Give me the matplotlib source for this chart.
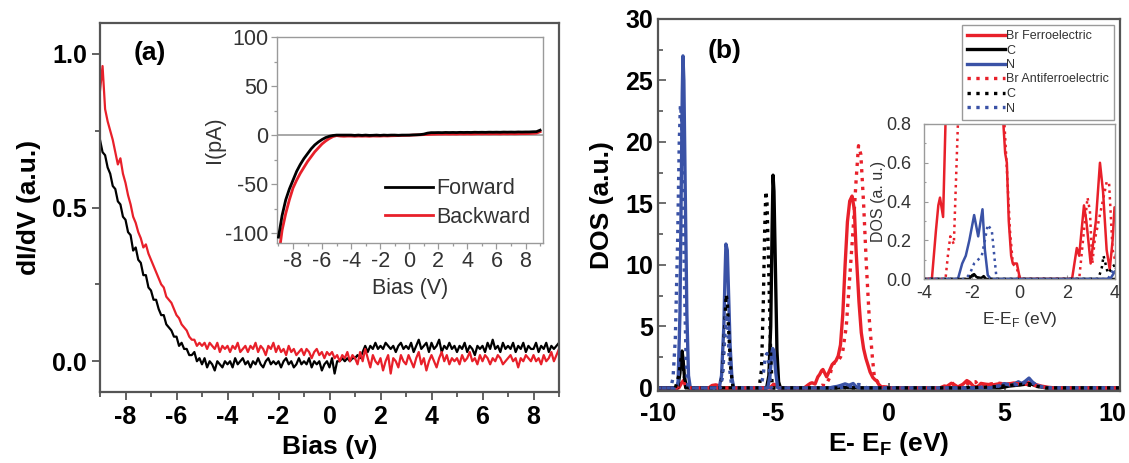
import numpy as np
import matplotlib
matplotlib.use("Agg")
import matplotlib.pyplot as plt
from matplotlib.ticker import MultipleLocator
from matplotlib.transforms import ScaledTranslation

plt.rcParams['font.family'] = ['Liberation Sans', 'DejaVu Sans']
plt.rcParams['mathtext.fontset'] = 'custom'
plt.rcParams['mathtext.rm'] = 'Liberation Sans'
plt.rcParams['mathtext.bf'] = 'Liberation Sans:bold'
plt.rcParams['axes.unicode_minus'] = False

# ---------------- Panel (a) data ----------------
bias = np.round(np.arange(-9.0, 9.001, 0.1), 1)
fwd_didv = [
    0.72, 0.68, 0.67, 0.63, 0.61, 0.57, 0.56, 0.52, 0.51, 0.47,
    0.46, 0.42, 0.41, 0.36, 0.37, 0.33, 0.32, 0.28, 0.28, 0.24,
    0.23, 0.20, 0.20, 0.17, 0.15, 0.15, 0.12, 0.11, 0.10, 0.08,
    0.08, 0.05, 0.06, 0.04, 0.04, 0.02, 0.02, 0.03, 0.00, 0.01,
    -0.01, 0.01, -0.02, 0.00, -0.01, -0.03, 0.00, -0.01, -0.02, 0.00,
    -0.01, 0.00, -0.02, 0.01, -0.01, 0.00, 0.01, -0.01, 0.00, -0.02,
    0.00, -0.01, 0.01, -0.01, -0.02, 0.00, 0.01, -0.01, 0.00, -0.01,
    0.00, -0.02, 0.00, 0.01, -0.01, 0.00, -0.02, -0.01, 0.01, -0.01,
    0.00, -0.01, 0.01, -0.02, 0.00, -0.01, 0.00, -0.03, -0.01, 0.00,
    -0.02, 0.01, -0.04, 0.00, 0.00, 0.01, 0.00, 0.01, 0.00, 0.01,
    0.01, 0.02, 0.01, 0.03, 0.05, 0.03, 0.05, 0.04, 0.06, 0.04,
    0.05, 0.04, 0.06, 0.05, 0.04, 0.05, 0.03, 0.05, 0.06, 0.04,
    0.05, 0.04, 0.06, 0.03, 0.05, 0.07, 0.04, 0.05, 0.06, 0.03,
    0.06, 0.04, 0.05, 0.07, 0.03, 0.05, 0.04, 0.06, 0.04, 0.05,
    0.03, 0.05, 0.04, 0.06, 0.03, 0.05, 0.04, 0.02, 0.05, 0.04,
    0.05, 0.03, 0.06, 0.04, 0.07, 0.04, 0.05, 0.03, 0.06, 0.04,
    0.05, 0.04, 0.06, 0.03, 0.05, 0.04, 0.06, 0.03, 0.05, 0.04,
    0.04, 0.06, 0.03, 0.05, 0.04, 0.06, 0.03, 0.05, 0.04, 0.05,
    0.06]
bwd_didv = [
    0.88, 0.96, 0.82, 0.78, 0.75, 0.72, 0.68, 0.64, 0.66, 0.61,
    0.58, 0.54, 0.51, 0.47, 0.45, 0.42, 0.40, 0.37, 0.38, 0.35,
    0.33, 0.31, 0.29, 0.27, 0.25, 0.24, 0.21, 0.20, 0.19, 0.17,
    0.15, 0.14, 0.12, 0.11, 0.10, 0.08, 0.07, 0.07, 0.05, 0.06,
    0.05, 0.06, 0.04, 0.06, 0.05, 0.04, 0.06, 0.03, 0.05, 0.04,
    0.05, 0.03, 0.05, 0.04, 0.06, 0.03, 0.04, 0.05, 0.03, 0.05,
    0.04, 0.06, 0.03, 0.05, 0.04, 0.02, 0.05, 0.04, 0.06, 0.03,
    0.05, 0.03, 0.04, 0.02, 0.05, 0.03, 0.04, 0.02, 0.03, 0.04,
    0.02, 0.04, 0.03, 0.01, 0.03, 0.04, 0.02, 0.03, 0.01, 0.03,
    0.02, 0.03, 0.01, 0.02, 0.00, 0.02, 0.01, 0.03, 0.00, 0.02,
    0.01, -0.01, 0.03, 0.00, 0.04, 0.01, -0.02, 0.02, 0.00, -0.01,
    0.01, -0.03, 0.00, 0.02, -0.04, 0.01, 0.00, -0.02, 0.02, 0.00,
    -0.01, 0.02, 0.00, -0.02, 0.01, 0.03, -0.01, 0.01, -0.03, 0.00,
    0.02, 0.00, -0.02, 0.01, 0.03, 0.00, 0.02, -0.01, 0.01, 0.00,
    0.01, -0.01, 0.02, 0.00, 0.01, 0.03, 0.00, 0.01, -0.01, 0.02,
    0.00, 0.02, 0.01, -0.01, 0.01, 0.00, 0.02, 0.01, -0.01, 0.00,
    0.01, 0.02, 0.00, 0.01, -0.02, 0.01, 0.00, 0.02, 0.01, 0.00,
    0.02, 0.00, 0.01, -0.01, 0.02, 0.00, 0.01, 0.03, 0.00, 0.02,
    0.04]

iv_bias = np.arange(-9.0, 9.001, 0.25)
fwd_I = [-104, -82, -66, -55, -46, -37, -30, -24, -19, -14, -10, -7,
         -4.5, -2.5, -1.2, -0.4, 0, 0, 0, 0, 0, -0.3, 0, -0.3,
         0, -0.3, -0.2, 0, -0.3, 0, -0.2, 0, 0, -0.2, 0, 0,
         0, 0.2, 0.3, 0.5, 1.0, 2.0, 2.5, 2.5, 2.6, 2.5, 2.7, 2.6,
         2.7, 2.6, 2.8, 2.7, 2.8, 2.7, 2.9, 2.8, 2.9, 2.8, 3.0, 2.9,
         3.0, 2.9, 3.1, 3.0, 3.1, 3.0, 3.2, 3.1, 3.2, 3.2, 3.4, 3.5, 5.0]
bwd_I = [-125, -97, -80, -66, -54, -46, -39, -33, -27, -22, -17, -13,
         -9, -6, -3.5, -1.5, -0.5, -1.0, -1.2, -1.0, -1.0, -1.2, -1.0, -1.1,
         -1.0, -1.2, -0.9, -1.0, -1.0, -0.8, -0.9, -0.7, -0.6, -0.5, -0.4, -0.3,
         -0.2, 0, 0.2, 0.3, 0.5, 0.6, 0.8, 0.9, 1.0, 1.0, 1.1, 1.0,
         1.1, 1.0, 1.2, 1.1, 1.2, 1.1, 1.2, 1.3, 1.2, 1.3, 1.2, 1.3,
         1.3, 1.2, 1.4, 1.3, 1.4, 1.3, 1.4, 1.5, 1.5, 1.6, 1.8, 2.0, 3.5]

# ---------------- Panel (b) data ----------------
br_fe_E = [-10, -9.1, -8.98, -8.9, -8.8, -8.65, -7.8, -7.66, -7.5, -7.4, -7.25,
           -5.15, -5.0, -4.9, -4.75, -3.75, -3.67, -3.5, -3.4, -3.33, -3.2,
           -3.08, -3.0, -2.92, -2.86, -2.78, -2.7, -2.6, -2.46, -2.3, -2.2,
           -2.1, -2.0, -1.9, -1.8, -1.7, -1.6, -1.5, -1.42, -1.3, -1.2, -1.1,
           -1.0, -0.9, -0.82, -0.7, -0.6, -0.53, -0.45, -0.35, -0.28, -0.2,
           -0.11, 0.02, 2.2, 2.4, 2.5, 2.6, 2.7, 2.8, 2.98, 3.1, 3.2, 3.37,
           3.5, 3.65, 3.78, 3.9, 3.98, 4.2, 4.5, 4.8, 5.1, 5.4, 5.7, 6.0,
           6.3, 6.6, 6.9, 7.2, 10]
br_fe_dos = [0, 0, 0.4, 0.6, 0.3, 0, 0, 0.2, 0.25, 0.2, 0,
             0, 0.3, 0.25, 0, 0, 0, 0.25, 0.38, 0.42, 0.32,
             0.9, 1.1, 1.4, 1.5, 1.2, 0.9, 1.3, 1.9, 2.2, 2.6,
             3.5, 6.0, 10.0, 13.5, 15.2, 15.6, 14.5, 11.0, 7.0, 4.5, 3.2,
             2.4, 1.8, 1.3, 0.85, 0.65, 0.6, 0.3, 0.12, 0.08, 0.08,
             0.08, 0, 0, 0.16, 0.12, 0.25, 0.38, 0.3, 0.08, 0.2, 0.3, 0.6,
             0.45, 0.15, 0.05, 0.2, 0.37, 0.3, 0.25, 0.35, 0.3, 0.4, 0.35, 0.45,
             0.3, 0.15, 0.05, 0, 0]

c_fe_E = [-10, -9.15, -9.05, -9.0, -8.96, -8.92, -8.85, -8.75,
          -5.3, -5.2, -5.12, -5.06, -5.02, -4.98, -4.92, -4.85, -4.78, -4.7,
          -2.1, -1.98, -1.9, -1.8, -1.6, -1.5, -1.4, 4.8, 5.2, 5.7, 6.1, 6.4,
          6.8, 10]
c_fe_dos = [0, 0, 1.2, 2.6, 3.0, 2.4, 0.8, 0,
            0, 1.0, 5.0, 13.0, 17.3, 16.0, 10.0, 3.0, 0.5, 0,
            0, 0.02, 0.025, 0.01, 0.005, 0.015, 0, 0, 0.15, 0.25, 0.35, 0.15,
            0, 0]

n_fe_E = [-10, -9.2, -9.13, -9.05, -9.0, -8.95, -8.92, -8.88, -8.82, -8.75,
          -8.68, -8.6, -7.35, -7.25, -7.15, -7.1, -7.06, -7.0, -6.95, -6.88,
          -6.8, -6.72, -5.25, -5.15, -5.08, -5.03, -4.98, -4.9, -4.82,
          -2.58, -2.4, -2.25, -2.1, -1.9, -1.73, -1.55, -1.45, -1.33, -1.2,
          3.8, 4.0, 4.3, 4.7, 5.0, 5.3, 5.6, 5.75, 5.9, 6.06, 6.2, 6.4, 6.7,
          7.0, 10]
n_fe_dos = [0, 0, 0.5, 6.0, 15.0, 24.0, 27.0, 25.0, 16.0, 6.0,
            1.0, 0, 0, 1.0, 5.0, 9.0, 11.7, 11.2, 8.0, 3.5,
            0.8, 0, 0, 1.0, 2.8, 3.2, 3.0, 1.2, 0,
            0, 0.08, 0.12, 0.2, 0.33, 0.22, 0.36, 0.15, 0.02, 0,
            0, 0.04, 0, 0.15, 0.35, 0.2, 0.5, 0.35, 0.55, 0.8, 0.5, 0.2, 0.05,
            0, 0]

br_afe_E = [-10, -9.2, -9.0, -8.85, -8.7, -3.1, -3.0, -2.9, -2.75, -2.58,
            -2.5, -2.4, -2.25, -2.1, -2.0, -1.85, -1.7, -1.55, -1.42, -1.32,
            -1.22, -1.1, -0.98, -0.85, -0.72, -0.63, -0.5, -0.4, -0.28, -0.1,
            0.0, 2.5, 2.7, 2.85, 2.95, 3.05, 3.15, 3.4, 3.65, 3.75, 3.9, 4.0,
            4.3, 4.7, 5.1, 5.5, 5.9, 6.3, 6.7, 7.0, 10]
br_afe_dos = [0, 0, 0.3, 0.35, 0, 0, 0.12, 0.22, 0.18, 0.8,
              1.5, 2.0, 2.1, 2.5, 3.0, 5.0, 9.0, 13.0, 17.0, 19.7,
              19.0, 15.0, 10.0, 5.5, 2.5, 0.8, 0.5, 0.25, 0.08, 0.05,
              0, 0, 0.25, 0.42, 0.35, 0.08, 0.2, 0.35, 0.5, 0.5, 0.15, 0.1,
              0.3, 0.4, 0.3, 0.35, 0.3, 0.2, 0.08, 0, 0]

c_afe_E = [-10, -9.25, -9.1, -9.0, -8.95, -8.88, -8.8, -7.3, -7.2, -7.1,
           -7.05, -7.0, -6.95, -6.85, -6.75, -5.62, -5.52, -5.44, -5.38,
           -5.33, -5.28, -5.2, -5.12, -5.05, -2.15, -2.0, -1.85, 3.3, 3.45,
           3.52, 3.6, 3.7, 3.85, 3.95, 4.1, 4.6, 5.2, 5.8, 6.3, 6.8, 10]
c_afe_dos = [0, 0, 1.0, 2.4, 2.6, 1.2, 0, 0, 1.5, 5.5,
             7.6, 7.0, 5.0, 1.5, 0, 0, 1.5, 7.0, 13.0,
             16.0, 15.0, 9.0, 2.5, 0, 0, 0.03, 0, 0, 0.06,
             0.12, 0.08, 0.03, 0.05, 0.07, 0.05, 0.1, 0.2, 0.3, 0.15, 0, 0]

n_afe_E = [-10, -9.45, -9.35, -9.25, -9.15, -9.08, -9.03, -8.98, -8.92,
           -8.85, -8.78, -8.7, -7.3, -7.2, -7.1, -7.05, -6.98, -6.9, -6.8,
           -5.55, -5.45, -5.35, -5.28, -5.2, -5.12, -2.25, -2.07, -1.9,
           -1.73, -1.58, -1.45, -1.33, -1.16, -0.96, 3.7, 3.85, 4.0, 4.5,
           5.0, 5.5, 5.9, 6.2, 6.6, 7.0, 10]
n_afe_dos = [0, 0, 0.8, 4.0, 12.0, 20.0, 23.0, 22.0, 16.0,
             8.0, 2.0, 0, 0, 1.0, 4.5, 6.0, 5.0, 1.5, 0,
             0, 1.0, 2.6, 2.8, 2.0, 0, 0, 0.03, 0.08,
             0.1, 0.12, 0.2, 0.28, 0.25, 0, 0, 0.03, 0.06, 0,
             0.3, 0.25, 0.45, 0.4, 0.1, 0, 0]

RED = '#e8202a'
BLUE = '#3a52a6'
BLACK = '#000000'
SPINE = '#555555'
GREY = '#9a9a9a'
TXT = '#333333'

fig = plt.figure(figsize=(11.29, 4.63), dpi=100)

# ---------------- Panel (a) ----------------
axa = fig.add_axes([100 / 1129, 1 - 392 / 463, 459 / 1129, 369 / 463])
axa.plot(bias, fwd_didv, color=BLACK, lw=1.6)
axa.plot(bias, bwd_didv, color=RED, lw=1.6)
axa.set_xlim(-9, 9)
axa.set_ylim(-0.1, 1.1)
axa.xaxis.set_major_locator(MultipleLocator(2))
axa.xaxis.set_minor_locator(MultipleLocator(1))
axa.yaxis.set_major_locator(MultipleLocator(0.5))
axa.yaxis.set_minor_locator(MultipleLocator(0.25))
axa.tick_params(which='both', direction='out', color=SPINE, width=1.3)
axa.tick_params(which='major', length=6, labelsize=18)
axa.tick_params(which='minor', length=3.5)
axa.set_yticks([0.0, 0.5, 1.0])
axa.set_yticklabels(['0.0', '0.5', '1.0'])
for lab in axa.get_xticklabels() + axa.get_yticklabels():
    lab.set_fontweight('bold')
for s in axa.spines.values():
    s.set_color(SPINE)
    s.set_linewidth(1.6)
axa.set_xlabel('Bias (v)', fontsize=19, fontweight='bold', labelpad=4)
axa.set_ylabel('dI/dV (a.u.)', fontsize=19, fontweight='bold', labelpad=8)
axa.text(150 / 1129, 1 - 53 / 463, '(a)', transform=fig.transFigure,
         fontsize=19, fontweight='bold', ha='center', va='center')

# inset (a)
axi = fig.add_axes([277 / 1129, 1 - 243 / 463, 266 / 1129, 206 / 463])
axi.axhline(0, color=GREY, lw=1.2, zorder=1)
axi.plot(iv_bias, fwd_I, color=BLACK, lw=2.0, label='Forward', zorder=3)
axi.plot(iv_bias, bwd_I, color=RED, lw=2.0, label='Backward', zorder=2)
axi.set_xlim(-9.1, 9.2)
axi.set_ylim(-110, 100)
axi.xaxis.set_minor_locator(MultipleLocator(1))
axi.yaxis.set_minor_locator(MultipleLocator(25))
axi.set_xticks([-8, -6, -4, -2, 0, 2, 4, 6, 8])
axi.set_yticks([-100, -50, 0, 50, 100])
axi.tick_params(which='both', direction='out', color=GREY, width=0.9,
                labelcolor=TXT)
axi.tick_params(which='major', length=4, labelsize=15.5, pad=2)
axi.tick_params(which='minor', length=2)
for s in axi.spines.values():
    s.set_color(GREY)
    s.set_linewidth(1.0)
axi.set_xlabel('Bias (V)', fontsize=15.5, color=TXT, labelpad=4)
axi.set_ylabel('I(pA)', fontsize=15.5, color=TXT, labelpad=0)
leg = axi.legend(loc='lower right', frameon=False, fontsize=15.5,
                 handlelength=2.2, handletextpad=0.15, labelspacing=0.35,
                 bbox_to_anchor=(1.0, 0.01), borderaxespad=0.2)
for t in leg.get_texts():
    t.set_color(TXT)

# ---------------- Panel (b) ----------------
axb = fig.add_axes([658 / 1129, 1 - 391 / 463, 462 / 1129, 372 / 463])
series = [
    (br_fe_E, br_fe_dos, RED, '-', 'Br Ferroelectric'),
    (c_fe_E, c_fe_dos, BLACK, '-', 'C'),
    (n_fe_E, n_fe_dos, BLUE, '-', 'N'),
    (br_afe_E, br_afe_dos, RED, ':', 'Br Antiferroelectric'),
    (c_afe_E, c_afe_dos, BLACK, ':', 'C'),
    (n_afe_E, n_afe_dos, BLUE, ':', 'N'),
]
handles = []
for E, d, col, ls, lab in series:
    h, = axb.plot(E, d, color=col, ls=ls, lw=2.4, label=lab)
    handles.append(h)
axb.set_xlim(-10, 10)
axb.set_ylim(-0.25, 30)
axb.xaxis.set_minor_locator(MultipleLocator(2.5))
axb.yaxis.set_minor_locator(MultipleLocator(2.5))
axb.set_xticks([-10, -5, 0, 5, 10])
axb.set_yticks([0, 5, 10, 15, 20, 25, 30])
axb.tick_params(which='both', direction='in', color=SPINE, width=1.2)
axb.tick_params(which='major', length=6, labelsize=18)
axb.tick_params(axis='x', which='major', pad=8)
axb.tick_params(which='minor', length=3.5)
for lab in axb.get_xticklabels() + axb.get_yticklabels():
    lab.set_fontweight('bold')
last = axb.xaxis.get_major_ticks()[-1].label1
last.set_transform(last.get_transform() +
                   ScaledTranslation(-8 / 100, 0, fig.dpi_scale_trans))
for s in axb.spines.values():
    s.set_color(SPINE)
    s.set_linewidth(1.6)
axb.set_xlabel(r'E- E$_{\mathbf{F}}$ (eV)', fontsize=19, fontweight='bold', labelpad=3)
axb.set_ylabel('DOS (a.u.)', fontsize=19, fontweight='bold', labelpad=8)
axb.text(725 / 1129, 1 - 51 / 463, '(b)', transform=fig.transFigure,
         fontsize=19, fontweight='bold', ha='center', va='center')
legb = axb.legend(handles=handles, loc='upper right', fontsize=9,
                  bbox_to_anchor=(1114 / 1129, 1 - 25 / 463),
                  bbox_transform=fig.transFigure, fancybox=False,
                  edgecolor=GREY, framealpha=1, handlelength=3.0,
                  handletextpad=0.1, labelspacing=0.2, borderpad=0.4,
                  borderaxespad=0)
legb.get_frame().set_linewidth(1.0)
for t in legb.get_texts():
    t.set_color(TXT)

# inset (b)
axj = fig.add_axes([924 / 1129, 1 - 279 / 463, 191 / 1129, 155 / 463])
for E, d, col, ls, lab in series:
    axj.plot(E, d, color=col, ls=ls, lw=1.8)
axj.set_xlim(-4, 4)
axj.set_ylim(0, 0.8)
axj.set_xticks([-4, -2, 0, 2, 4])
axj.set_yticks([0.0, 0.2, 0.4, 0.6, 0.8])
axj.set_yticklabels(['0.0', '0.2', '0.4', '0.6', '0.8'])
axj.xaxis.set_minor_locator(MultipleLocator(1))
axj.yaxis.set_minor_locator(MultipleLocator(0.1))
axj.tick_params(which='both', direction='in', color=GREY, width=0.8,
                labelcolor=TXT)
axj.tick_params(which='major', length=3, labelsize=13, pad=4)
axj.tick_params(axis='y', which='major', pad=9)
axj.tick_params(which='minor', length=1.5)
for s in axj.spines.values():
    s.set_color(GREY)
    s.set_linewidth(1.0)
axj.set_xlabel(r'E-E$_{\mathrm{F}}$ (eV)', fontsize=12.5, color=TXT, labelpad=6)
axj.set_ylabel('DOS (a. u.)', fontsize=11.5, color=TXT, labelpad=0)

fig.savefig('out.png', dpi=100)
